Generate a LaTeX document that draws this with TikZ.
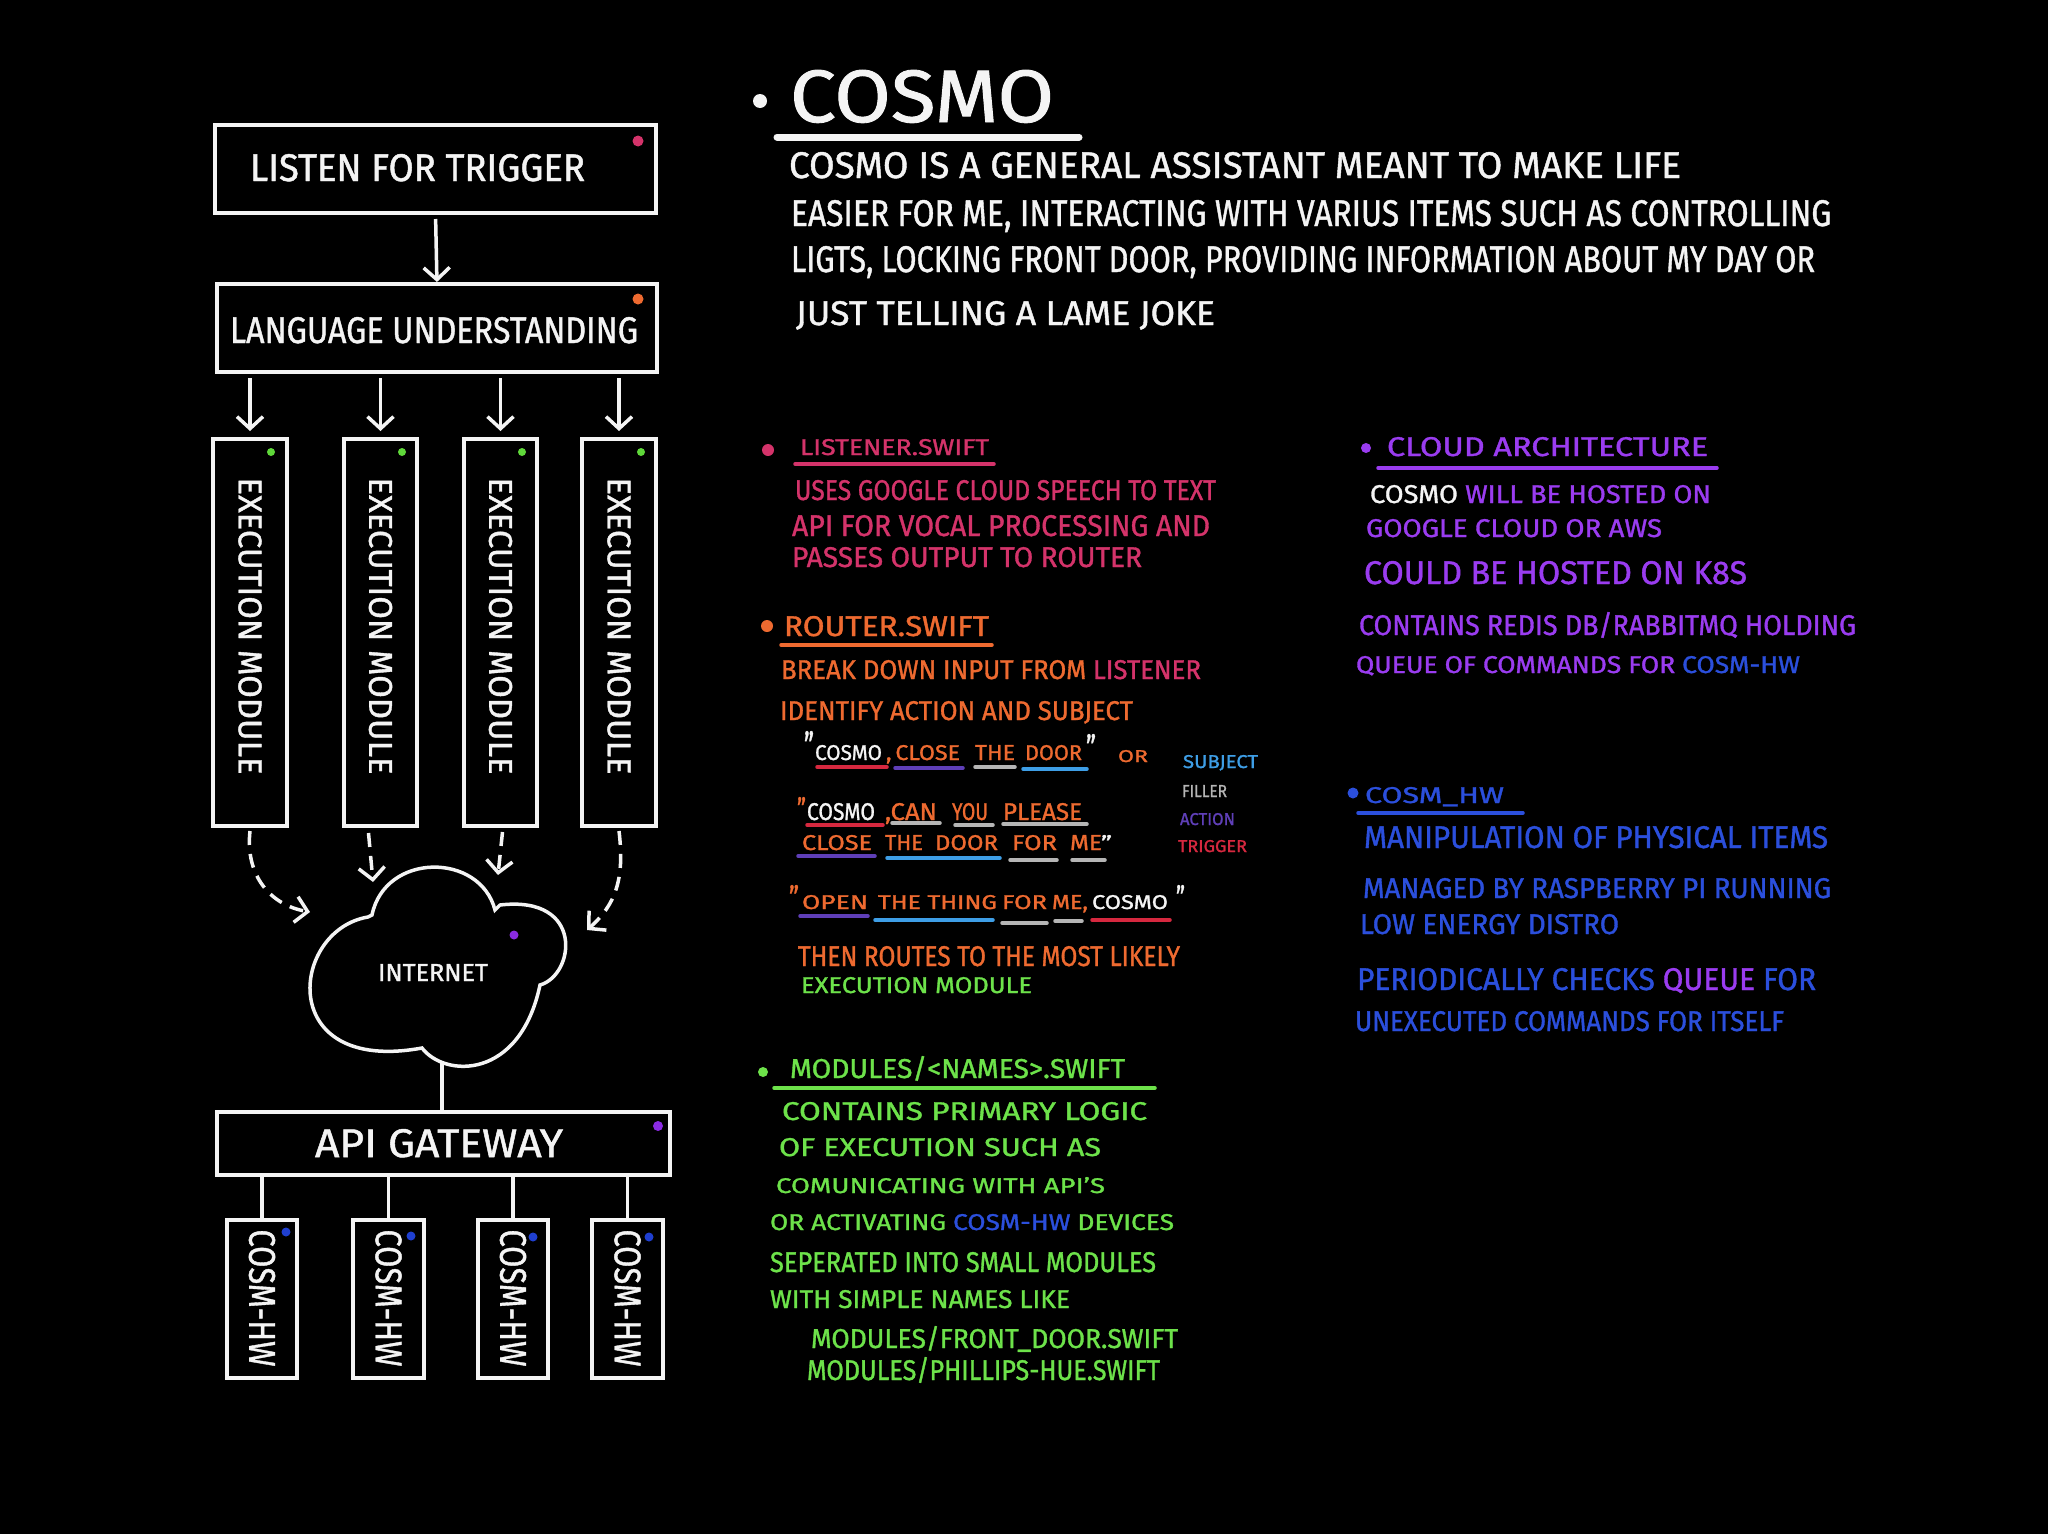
\documentclass[tikz,border=0pt]{standalone}
\usepackage{fontspec}
\setmainfont{Fira Sans}[UprightFeatures={FakeBold=1.2}]
\usepackage{graphicx}
\usetikzlibrary{arrows.meta}
\definecolor{wh}{HTML}{F4F4F4}
\definecolor{cpink}{HTML}{D4336A}
\definecolor{corange}{HTML}{EE6A30}
\definecolor{cgreen}{HTML}{6DE24A}
\definecolor{cpurple}{HTML}{9A3CF0}
\definecolor{cblue}{HTML}{2B4FDC}
\definecolor{csubj}{HTML}{3E9EE6}
\definecolor{cfill}{HTML}{B5B5B5}
\definecolor{cact}{HTML}{5F3FB8}
\definecolor{ctrig}{HTML}{D6283F}
\definecolor{dgreen}{HTML}{5FD83A}
\definecolor{dpurp}{HTML}{8A2BE2}
\definecolor{dblue}{HTML}{1F3FD0}
\newcommand\wt[7]{\node[tx,text=#6,anchor=base west] (#1) at (#2,#3) {\resizebox{#4pt}{#5pt}{#7}};}
\begin{document}
\begin{tikzpicture}[x=1pt,y=-1pt,
  box/.style={draw=wh, line width=4pt, inner sep=0pt, outer sep=0pt, rectangle},
  tx/.style={inner sep=0pt, outer sep=0pt},
  arr/.style={draw=wh, line width=3.5pt, -{Straight Barb[length=12pt,width=26pt]}},
  darr/.style={arr, dash pattern=on 14pt off 9pt},
  link/.style={draw=wh, line width=3.5pt},
  ul/.style={line width=3.5pt, line cap=round}]
\useasboundingbox (0,0) rectangle (2048,1534);
\fill[black] (0,0) rectangle (2048,1534);

% ---------- left diagram ----------
\node[box, minimum width=441pt, minimum height=88pt] (listen) at (435.5,169) {};
\node[box, minimum width=440pt, minimum height=88pt] (lang) at (437,328) {};
\node[box, minimum width=74pt, minimum height=387pt] (e1) at (250,632.5) {};
\node[box, minimum width=73pt, minimum height=387pt] (e2) at (380.5,632.5) {};
\node[box, minimum width=73pt, minimum height=387pt] (e3) at (500.5,632.5) {};
\node[box, minimum width=74pt, minimum height=387pt] (e4) at (619,632.5) {};
\node[box, minimum width=453pt, minimum height=63pt] (gw) at (443.5,1143.5) {};
\node[box, minimum width=70pt, minimum height=158pt] (h1) at (262,1299) {};
\node[box, minimum width=71pt, minimum height=158pt] (h2) at (388.5,1299) {};
\node[box, minimum width=70pt, minimum height=158pt] (h3) at (513,1299) {};
\node[box, minimum width=71pt, minimum height=158pt] (h4) at (627.5,1299) {};

\wt{tlisten}{250}{181}{335}{27}{wh}{LISTEN FOR TRIGGER}
\wt{tlang}{230}{343}{408}{26}{wh}{LANGUAGE UNDERSTANDING}
\wt{tgw}{315}{1157}{248}{28}{wh}{API GATEWAY}
\wt{tnet}{378}{981}{110}{17}{wh}{INTERNET}

\node[tx, text=wh, rotate=-90] (te1) at (250,626) {\resizebox{297pt}{23pt}{EXECUTION MODULE}};
\node[tx, text=wh, rotate=-90] (te2) at (380.5,626) {\resizebox{297pt}{23pt}{EXECUTION MODULE}};
\node[tx, text=wh, rotate=-90] (te3) at (500.5,626) {\resizebox{297pt}{23pt}{EXECUTION MODULE}};
\node[tx, text=wh, rotate=-90] (te4) at (619,626) {\resizebox{297pt}{23pt}{EXECUTION MODULE}};
\node[tx, text=wh, rotate=-90] (th1) at (262,1298) {\resizebox{137pt}{26pt}{COSM-HW}};
\node[tx, text=wh, rotate=-90] (th2) at (388.5,1298) {\resizebox{137pt}{26pt}{COSM-HW}};
\node[tx, text=wh, rotate=-90] (th3) at (513,1298) {\resizebox{137pt}{26pt}{COSM-HW}};
\node[tx, text=wh, rotate=-90] (th4) at (627.5,1298) {\resizebox{137pt}{26pt}{COSM-HW}};

% cloud
\draw[link] (422,1048) .. controls (445,1078) and (520,1080) .. (540,985)
  .. controls (575,975) and (585,895) .. (500,905) -- (495,910)
  .. controls (480,852) and (385,852) .. (372,915) -- (368,917)
  .. controls (290,930) and (275,1075) .. (422,1048) -- cycle;
\coordinate (cb) at (442,1061);
\coordinate (c1) at (310,912);
\coordinate (c2) at (373,882);
\coordinate (c3) at (498,875);
\coordinate (c4) at (587,930);

% connectors
\draw[arr, shorten <=6pt, shorten >=2pt] (listen.south) -- (lang.north);
\foreach \i in {1,2,3,4}{
  \draw[arr, shorten <=6pt, shorten >=8pt] (e\i.north |- lang.south) -- (e\i.north);
  \draw[link] (h\i.north |- gw.south) -- (h\i.north);
}
\draw[darr] ([yshift=-5pt]e1.south) .. controls (245,875) and (270,905) .. (c1);
\draw[darr] ([xshift=-12pt,yshift=-7pt]e2.south) -- (c2);
\draw[darr] ([xshift=2pt,yshift=-6pt]e3.south) -- (c3);
\draw[darr] ([yshift=-5pt]e4.south) .. controls (625,880) and (615,905) .. (c4);
\draw[link] (cb) -- (cb |- gw.north);

% dots
\fill[cpink] (638,141) circle[radius=5.5pt];
\fill[corange] (638,299) circle[radius=5.5pt];
\foreach \x in {271,402,522,641}{\fill[dgreen] (\x,452) circle[radius=4pt];}
\fill[dpurp] (514,935) circle[radius=4.5pt];
\fill[dpurp] (658,1126) circle[radius=5pt];
\fill[dblue] (286,1232) circle[radius=4.5pt];
\fill[dblue] (411,1236) circle[radius=4.5pt];
\fill[dblue] (533,1237) circle[radius=4.5pt];
\fill[dblue] (649,1237) circle[radius=4.5pt];

% ---------- title ----------
\fill[wh] (760,101) circle[radius=7pt];
\wt{ttl}{790}{122}{264}{52}{wh}{COSMO}
\draw[wh, line width=7pt, line cap=round] (777,137) -- (1079,137);
\wt{p1}{789}{178}{892}{26}{wh}{COSMO IS A GENERAL ASSISTANT MEANT TO MAKE LIFE}
\wt{p2}{791}{226}{1040}{26}{wh}{EASIER FOR ME, INTERACTING WITH VARIUS ITEMS SUCH AS CONTROLLING}
\wt{p3}{791}{272}{1024}{26}{wh}{LIGTS, LOCKING FRONT DOOR, PROVIDING INFORMATION ABOUT MY DAY OR}
\wt{p4}{796}{325}{419}{24}{wh}{JUST TELLING A LAME JOKE}

% ---------- listener ----------
\fill[cpink] (768,450) circle[radius=6pt];
\wt{ls0}{800}{455}{189}{16}{cpink}{LISTENER.SWIFT}
\draw[ul, cpink] (795,464) -- (994,464);
\wt{ls1}{795}{500}{421}{20}{cpink}{USES GOOGLE CLOUD SPEECH TO TEXT}
\wt{ls2}{792}{536}{418}{21}{cpink}{API FOR VOCAL PROCESSING AND}
\wt{ls3}{792}{567}{350}{20}{cpink}{PASSES OUTPUT TO ROUTER}

% ---------- router ----------
\fill[corange] (767,626) circle[radius=6pt];
\wt{rt0}{784}{636}{205}{20}{corange}{ROUTER.SWIFT}
\draw[ul, corange] (781,645) -- (992,645);
\wt{rt1}{781}{679}{420}{19}{corange}{BREAK DOWN INPUT FROM \textcolor{cpink}{LISTENER}}
\wt{rt2}{780}{720}{353}{19}{corange}{IDENTIFY ACTION AND SUBJECT}

\wt{q1a}{804}{760}{10}{29}{wh}{"}
\wt{w11}{815}{760}{67}{15}{wh}{COSMO}
\wt{w12}{886}{760}{74}{15}{corange}{,\,CLOSE}
\wt{w13}{975}{760}{40}{15}{corange}{THE}
\wt{w14}{1025}{760}{57}{15}{corange}{DOOR}
\wt{q1b}{1086}{760}{10}{26}{wh}{"}
\wt{wor}{1118}{762}{30}{12}{corange}{OR}
\draw[ul, ctrig] (817,767) -- (887,767);
\draw[ul, cact] (895,768) -- (963,768);
\draw[ul, cfill] (975,767) -- (1015,767);
\draw[ul, csubj] (1023,769) -- (1087,769);

\wt{lg1}{1183}{768}{75}{13}{csubj}{SUBJECT}
\wt{lg2}{1182}{797}{45}{12}{cfill}{FILLER}
\wt{lg3}{1180}{825}{55}{12}{cact}{ACTION}
\wt{lg4}{1178}{852}{69}{12}{ctrig}{TRIGGER}

\wt{q2a}{797}{820}{9}{23}{corange}{"}
\wt{w21}{807}{820}{68}{17}{wh}{COSMO}
\wt{w22}{885}{820}{52}{17}{corange}{,CAN}
\wt{w23}{952}{820}{36}{17}{corange}{YOU}
\wt{w24}{1003}{820}{79}{17}{corange}{PLEASE}
\draw[ul, ctrig] (807,825) -- (883,825);
\draw[ul, cfill] (892,823) -- (940,823);
\draw[ul, cfill] (955,825) -- (993,825);
\draw[ul, cfill] (1003,824) -- (1087,824);
\wt{w25}{802}{850}{70}{15}{corange}{CLOSE}
\wt{w26}{885}{850}{38}{15}{corange}{THE}
\wt{w27}{935}{850}{63}{15}{corange}{DOOR}
\wt{w28}{1012}{850}{45}{15}{corange}{FOR}
\wt{w29}{1070}{850}{32}{15}{corange}{ME}
\wt{q2b}{1101}{850}{11}{15}{wh}{"}
\draw[ul, cact] (798,856) -- (875,856);
\draw[ul, csubj] (887,858) -- (1000,858);
\draw[ul, cfill] (1010,860) -- (1057,860);
\draw[ul, cfill] (1072,860) -- (1105,860);

\wt{q3a}{789}{909}{10}{24}{corange}{"}
\wt{w31}{802}{909}{66}{14}{corange}{OPEN}
\wt{w32}{878}{909}{119}{14}{corange}{THE THING}
\wt{w33}{1002}{909}{45}{14}{corange}{FOR}
\wt{w34}{1052}{909}{36}{14}{corange}{ME,}
\wt{w35}{1092}{909}{76}{14}{wh}{COSMO}
\wt{q3b}{1176}{909}{9}{24}{wh}{"}
\draw[ul, cact] (800,916) -- (868,916);
\draw[ul, csubj] (875,920) -- (993,920);
\draw[ul, cfill] (1002,923) -- (1047,923);
\draw[ul, cfill] (1055,921) -- (1082,921);
\draw[ul, ctrig] (1092,920) -- (1170,920);

\wt{rt3}{798}{966}{382}{20}{corange}{THEN ROUTES TO THE MOST LIKELY}
\wt{rt4}{801}{993}{231}{16}{cgreen}{EXECUTION MODULE}

% ---------- modules ----------
\fill[cgreen] (763,1072) circle[radius=5pt];
\wt{md0}{790}{1078}{335}{22}{cgreen}{MODULES/<NAMES>.SWIFT}
\draw[ul, cgreen] (774,1088) -- (1155,1088);
\wt{md1}{782}{1120}{365}{18}{cgreen}{CONTAINS PRIMARY LOGIC}
\wt{md2}{779}{1156}{322}{18}{cgreen}{OF EXECUTION SUCH AS}
\wt{md3}{776}{1193}{329}{16}{cgreen}{COMUNICATING WITH API'S}
\wt{md4}{770}{1230}{404}{16}{cgreen}{OR ACTIVATING \textcolor{cblue}{COSM-HW} DEVICES}
\wt{md5}{770}{1272}{386}{20}{cgreen}{SEPERATED INTO SMALL MODULES}
\wt{md6}{770}{1308}{300}{18}{cgreen}{WITH SIMPLE NAMES LIKE}
\wt{md7}{811}{1348}{367}{22}{cgreen}{MODULES/FRONT\_DOOR.SWIFT}
\wt{md8}{807}{1380}{353}{23}{cgreen}{MODULES/PHILLIPS-HUE.SWIFT}

% ---------- cloud architecture ----------
\fill[cpurple] (1366,448) circle[radius=5pt];
\wt{ca0}{1387}{456}{321}{19}{cpurple}{CLOUD ARCHITECTURE}
\draw[ul, cpurple] (1378,468) -- (1717,468);
\wt{ca1}{1370}{503}{341}{18}{cpurple}{\textcolor{wh}{COSMO} WILL BE HOSTED ON}
\wt{ca2}{1366}{537}{296}{18}{cpurple}{GOOGLE CLOUD OR AWS}
\wt{ca3}{1364}{584}{383}{23}{cpurple}{COULD BE HOSTED ON K8S}
\wt{ca4}{1359}{635}{497}{23}{cpurple}{CONTAINS REDIS DB/RABBITMQ HOLDING}
\wt{ca5}{1356}{673}{444}{17}{cpurple}{QUEUE OF COMMANDS FOR \textcolor{cblue}{COSM-HW}}

% ---------- cosm_hw ----------
\fill[cblue] (1353,793) circle[radius=5.5pt];
\wt{hw0}{1365}{803}{139}{16}{cblue}{COSM\_HW}
\draw[ul, cblue] (1358,813) -- (1523,813);
\wt{hw1}{1364}{848}{464}{22}{cblue}{MANIPULATION OF PHYSICAL ITEMS}
\wt{hw2}{1363}{898}{468}{20}{cblue}{MANAGED BY RASPBERRY PI RUNNING}
\wt{hw3}{1360}{934}{259}{20}{cblue}{LOW ENERGY DISTRO}
\wt{hw4}{1357}{990}{459}{22}{cblue}{PERIODICALLY CHECKS \textcolor{cpurple}{QUEUE} FOR}
\wt{hw5}{1355}{1031}{429}{20}{cblue}{UNEXECUTED COMMANDS FOR ITSELF}
\end{tikzpicture}
\end{document}
